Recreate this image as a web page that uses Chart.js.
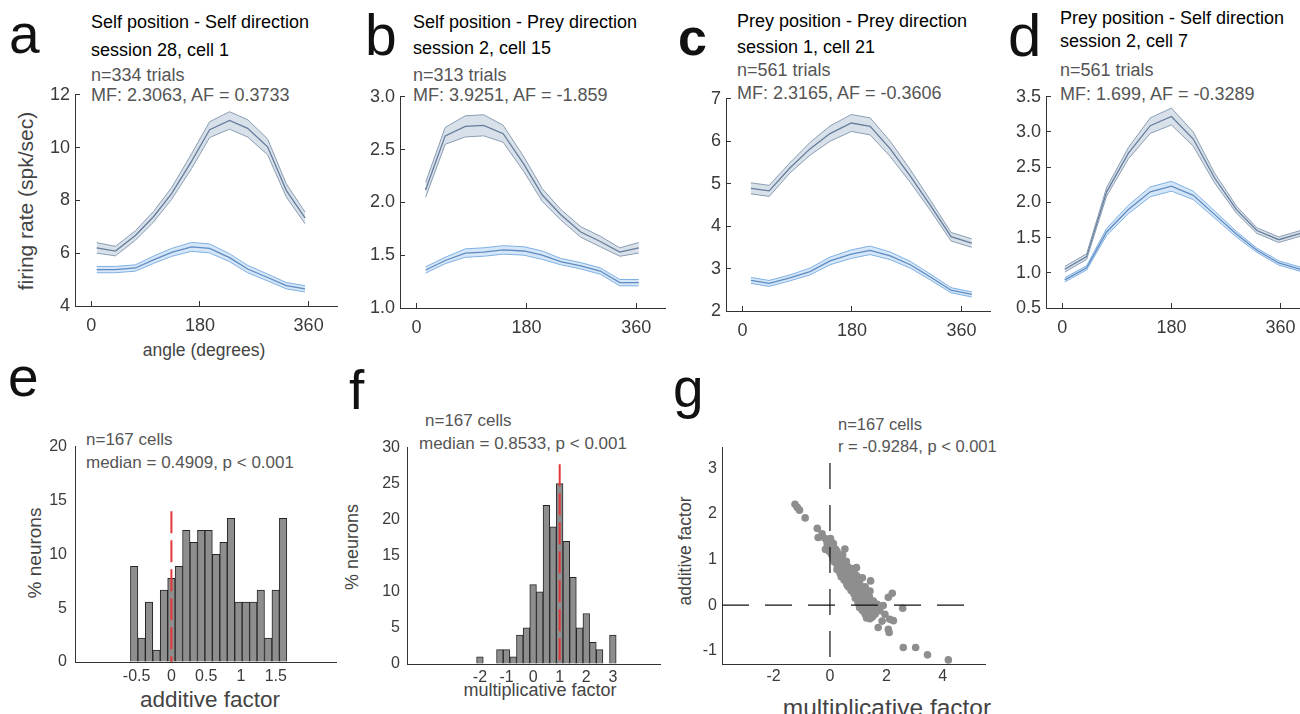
<!DOCTYPE html>
<html>
<head>
<meta charset="utf-8">
<script src="https://cdn.jsdelivr.net/npm/chart.js@4.4.0/dist/chart.umd.min.js"></script>
<style>
  html, body { margin: 0; padding: 0; width: 1300px; height: 714px; overflow: hidden; background: #fff; }
  body { position: relative; font-family: "Liberation Sans", Arial, sans-serif; }
  .t { position: absolute; white-space: nowrap; line-height: 1; }
  .title { font-size: 18px; color: #000; }
  .stat { font-size: 18px; color: #555; }
  .stat2 { font-size: 17px; color: #555; }
  .letter { position: absolute; line-height: 1; color: #111; }
  .lab { position: absolute; white-space: nowrap; line-height: 1; color: #444; transform: translate(-50%, -50%); }
  .rot { transform: translate(-50%, -50%) rotate(-90deg); }
</style>
</head>
<body>

<div class="letter" style="left:9px;top:7px;font-size:55px">a</div>
<div class="letter" style="left:365px;top:7px;font-size:57px">b</div>
<div class="letter" style="left:678px;top:11px;font-size:52px;font-weight:bold">c</div>
<div class="letter" style="left:1008px;top:6px;font-size:60px">d</div>
<div class="letter" style="left:8px;top:350px;font-size:55px">e</div>
<div class="letter" style="left:349px;top:363px;font-size:55px">f</div>
<div class="letter" style="left:673px;top:361px;font-size:55px">g</div>

<div class="t title" style="left:91px;top:13px">Self position - Self direction</div>
<div class="t title" style="left:91px;top:41px">session 28, cell 1</div>
<div class="t stat" style="left:91px;top:66px">n=334 trials</div>
<div class="t stat" style="left:91px;top:86px">MF: 2.3063, AF = 0.3733</div>

<div class="t title" style="left:413px;top:13px">Self position - Prey direction</div>
<div class="t title" style="left:413px;top:39px">session 2, cell 15</div>
<div class="t stat" style="left:413px;top:66px">n=313 trials</div>
<div class="t stat" style="left:413px;top:86px">MF: 3.9251, AF = -1.859</div>

<div class="t title" style="left:737px;top:12px">Prey position - Prey direction</div>
<div class="t title" style="left:737px;top:38px">session 1, cell 21</div>
<div class="t stat" style="left:737px;top:61px">n=561 trials</div>
<div class="t stat" style="left:737px;top:84px">MF: 2.3165, AF = -0.3606</div>

<div class="t title" style="left:1060px;top:9px">Prey position - Self direction</div>
<div class="t title" style="left:1060px;top:32px">session 2, cell 7</div>
<div class="t stat" style="left:1060px;top:61px">n=561 trials</div>
<div class="t stat" style="left:1060px;top:85px">MF: 1.699, AF = -0.3289</div>

<div class="t stat2" style="left:86px;top:431px">n=167 cells</div>
<div class="t stat2" style="left:86px;top:454px">median = 0.4909, p &lt; 0.001</div>
<div class="t stat2" style="left:425px;top:412px">n=167 cells</div>
<div class="t stat2" style="left:419px;top:435px">median = 0.8533, p &lt; 0.001</div>
<div class="t stat2" style="left:838px;top:416px;font-size:16.5px">n=167 cells</div>
<div class="t stat2" style="left:838px;top:438px;font-size:16.5px">r = -0.9284, p &lt; 0.001</div>

<div class="lab rot" style="left:25px;top:201px;font-size:21px">firing rate (spk/sec)</div>
<div class="lab" style="left:204px;top:351px;font-size:17.5px">angle (degrees)</div>
<div class="lab rot" style="left:34px;top:553px;font-size:19px">% neurons</div>
<div class="lab" style="left:210px;top:700px;font-size:22.5px">additive factor</div>
<div class="lab rot" style="left:352px;top:547px;font-size:18px">% neurons</div>
<div class="lab" style="left:540px;top:690px;font-size:18px">multiplicative factor</div>
<div class="lab rot" style="left:686px;top:551px;font-size:17.5px">additive factor</div>
<div class="lab" style="left:887px;top:708px;font-size:24.5px">multiplicative factor</div>

<script>
// ---- data ----
const angleTicks = [0, 180, 360];

const anglesA = [9, 40, 73, 103, 133, 166, 196, 229, 259, 292, 323, 354];
const meanA1 = [6.2, 6.08, 6.67, 7.38, 8.26, 9.48, 10.68, 11.03, 10.73, 10.03, 8.38, 7.34];
const semA1 = [0.2, 0.18, 0.18, 0.2, 0.22, 0.28, 0.3, 0.33, 0.33, 0.3, 0.25, 0.22];
const meanA2 = [5.38, 5.38, 5.44, 5.75, 6.03, 6.24, 6.18, 5.83, 5.4, 5.08, 4.77, 4.65];
const semA2 = [0.12, 0.12, 0.12, 0.14, 0.15, 0.17, 0.17, 0.15, 0.14, 0.13, 0.12, 0.12];
const yTicksA = [4, 6, 8, 10, 12];

const anglesB = [15, 47, 80, 110, 142, 176, 206, 236, 269, 301, 333, 364];
const meanB1 = [2.12, 2.63, 2.72, 2.73, 2.65, 2.36, 2.07, 1.885, 1.72, 1.63, 1.53, 1.57];
const semB1 = [0.07, 0.08, 0.1, 0.1, 0.08, 0.07, 0.06, 0.05, 0.05, 0.05, 0.04, 0.05];
const meanB2 = [1.36, 1.45, 1.52, 1.53, 1.55, 1.54, 1.5, 1.44, 1.4, 1.35, 1.24, 1.24];
const semB2 = [0.03, 0.03, 0.04, 0.04, 0.04, 0.04, 0.04, 0.03, 0.03, 0.03, 0.03, 0.03];
const yTicksB = [1, 1.5, 2, 2.5, 3];

const anglesC = [14, 44, 78, 111, 144, 179, 210, 243, 276, 309, 343, 377];
const meanC1 = [4.89, 4.83, 5.37, 5.82, 6.18, 6.43, 6.35, 5.82, 5.18, 4.49, 3.75, 3.6];
const semC1 = [0.13, 0.13, 0.12, 0.15, 0.18, 0.2, 0.2, 0.18, 0.15, 0.12, 0.1, 0.1];
const meanC2 = [2.72, 2.65, 2.78, 2.93, 3.18, 3.34, 3.43, 3.3, 3.09, 2.8, 2.49, 2.39];
const semC2 = [0.07, 0.07, 0.07, 0.08, 0.09, 0.1, 0.1, 0.09, 0.08, 0.07, 0.06, 0.06];
const yTicksC = [2, 3, 4, 5, 6, 7];

const anglesD = [4, 40, 73, 109, 145, 180, 216, 251, 287, 321, 357, 393];
const meanD1 = [1.05, 1.23, 2.15, 2.7, 3.09, 3.22, 2.9, 2.35, 1.9, 1.6, 1.47, 1.56];
const semD1 = [0.04, 0.04, 0.06, 0.08, 0.11, 0.12, 0.1, 0.07, 0.05, 0.04, 0.04, 0.04];
const meanD2 = [0.9, 1.07, 1.58, 1.9, 2.15, 2.23, 2.1, 1.83, 1.55, 1.32, 1.14, 1.05];
const semD2 = [0.03, 0.03, 0.05, 0.06, 0.07, 0.07, 0.06, 0.05, 0.04, 0.03, 0.03, 0.03];
const yTicksD = [0.5, 1, 1.5, 2, 2.5, 3, 3.5];

// e: additive factor histogram
const binsE = [-0.535, -0.428, -0.321, -0.214, -0.107, 0, 0.107, 0.214, 0.321, 0.428, 0.535,
  0.642, 0.749, 0.856, 0.963, 1.07, 1.177, 1.284, 1.391, 1.498, 1.605];
const pctE = [8.89, 2.22, 5.56, 1.11, 6.67, 7.78, 8.89, 12.22, 11.11, 12.22, 12.22,
  10, 11.11, 13.33, 5.56, 5.56, 5.56, 6.67, 2.22, 6.67, 13.33];
const xTicksE = [-0.5, 0, 0.5, 1, 1.5];
const yTicksE = [0, 5, 10, 15, 20];
const refE = [14, 0];

// f: multiplicative factor histogram
const binsF = [-2, -1.75, -1.5, -1.25, -1, -0.75, -0.5, -0.25, 0, 0.25, 0.5,
  0.75, 1, 1.25, 1.5, 1.75, 2, 2.25, 2.5, 2.75, 3];
const pctF = [1, 0, 0, 2, 2, 1, 4, 5, 11, 10, 22, 19, 25, 17, 12, 5, 7, 3, 2, 0, 4];
const xTicksF = [-2, -1, 0, 1, 2, 3];
const yTicksF = [0, 5, 10, 15, 20, 25, 30];
const refF = [27.7, 0];

// g: multiplicative vs additive factor per cell
const mfG = [-1.24, -1.16, -1.08, -0.88, -0.45, -0.42, -0.28, -0.15, -0.05, -0.16, -0.03, 0.53, 0.12, 0.02, -0.3,
  1.44, 1.42, 2.07, 2.21, 2.58, 1.89, 1.77, 1.5, 1.71, 2.07, 2.1, 2.25, 2.12, 2.6, 3.04, 3.46, 4.2, 1.06, 1.24, 1.54, 1.35, 1.6, 1.95, 1.85,
  0.05, 0.1, 0.15, 0.2, 0.12, 0.25, 0.3, 0.08, 0.18, 0.28, 0.35,
  0.15, 0.22, 0.3, 0.38, 0.45, 0.26, 0.34, 0.42, 0.5, 0.58,
  0.25, 0.32, 0.4, 0.48, 0.55, 0.62, 0.36, 0.44, 0.52, 0.6, 0.7, 0.78, 0.94,
  0.4, 0.48, 0.55, 0.62, 0.7, 0.78, 0.86, 0.5, 0.58, 0.66, 0.74, 0.82, 0.95,
  0.6, 0.68, 0.75, 0.82, 0.9, 0.98, 0.65, 0.72, 0.8, 0.88, 0.95, 1.05, 1.15,
  0.75, 0.82, 0.9, 0.98, 1.06, 0.85, 0.92, 1.0, 1.08, 1.16, 1.25,
  0.9, 0.98, 1.05, 1.12, 1.2, 1.3, 1.0, 1.08, 1.15, 1.22, 1.32, 1.4,
  1.05, 1.12, 1.2, 1.28, 1.36, 1.45, 1.15, 1.25, 1.35, 1.48, 1.58, 1.68,
  1.25, 1.35, 1.42, 1.55, 1.3, 1.42,
  0.0, 0.05, -0.08, 0.03, -0.1, 0.1, 0.2, 0.25, 0.4, 0.45];
const afG = [2.21, 2.14, 2.08, 1.91, 1.68, 1.48, 1.56, 1.45, 1.38, 1.22, 1.18, 1.23, 1.35, 1.46, 1.5,
  0.53, 0.31, 0.17, 0.26, -0.07, -0.01, -0.12, -0.26, -0.49, -0.53, -0.6, -0.34, -0.31, -0.93, -0.93, -1.09, -1.2, -0.01, -0.05, 0.09, -0.1, -0.2, -0.2, -0.35,
  1.12, 1.08, 1.1, 1.05, 1.02, 1.0, 1.04, 1.2, 1.16, 1.12, 1.08,
  0.95, 0.92, 0.9, 0.94, 0.98, 0.86, 0.84, 0.88, 0.92, 0.96,
  0.78, 0.76, 0.8, 0.78, 0.82, 0.85, 0.7, 0.72, 0.7, 0.74, 0.78, 0.8, 0.82,
  0.62, 0.64, 0.6, 0.66, 0.62, 0.68, 0.7, 0.55, 0.52, 0.56, 0.58, 0.6, 0.64,
  0.45, 0.48, 0.44, 0.5, 0.52, 0.55, 0.4, 0.38, 0.42, 0.4, 0.46, 0.48, 0.6,
  0.32, 0.3, 0.34, 0.36, 0.38, 0.25, 0.22, 0.28, 0.3, 0.34, 0.4,
  0.15, 0.12, 0.18, 0.2, 0.22, 0.26, 0.05, 0.08, 0.1, 0.12, 0.15, 0.18,
  -0.05, -0.02, 0.0, 0.03, 0.05, 0.02, -0.12, -0.1, -0.08, -0.06, -0.02, 0.02,
  -0.2, -0.22, -0.18, -0.15, -0.28, -0.3,
  1.25, 1.28, 1.3, 1.4, 1.35, 1.3, 1.22, 1.18, 1.0, 1.1];
const xTicksG = [-2, 0, 2, 4];
const yTicksG = [-1, 0, 1, 2, 3];
const vLineG = { x: [0, 0], y: [3.11, -1.29] };
const hLineG = { x: [-3.83, 4.9], y: [0, 0] };

// ---- chart setup ----
Chart.defaults.font.family = 'Liberation Sans';
Chart.defaults.color = '#3a3a3a';
Chart.defaults.animation = false;
Chart.defaults.events = [];
Chart.defaults.plugins.legend.display = false;
Chart.defaults.plugins.tooltip.enabled = false;

const YW = 60, XH = 40, PT = 14, PR = 14;
const AXIS = '#333';

const darkCol = { edge: '#8a9db3', fill: 'rgba(178,193,212,0.5)', line: '#1b3866' };
const lightCol = { edge: '#7fb1e3', fill: 'rgba(160,200,240,0.45)', line: '#2c5a99' };

function makeCanvas(area) {
  const c = document.createElement('canvas');
  const w = Math.round(area.r - area.l + YW + PR), h = Math.round(area.b - area.t + PT + XH);
  c.width = w; c.height = h;
  c.style.cssText = 'position:absolute;left:' + (area.l - YW) + 'px;top:' + (area.t - PT) + 'px;width:' + w + 'px;height:' + h + 'px';
  document.body.appendChild(c);
  return c;
}

function scale(dir, min, max, ticks, o) {
  return {
    type: 'linear', position: dir === 'x' ? 'bottom' : 'left', min: min, max: max,
    afterBuildTicks: s => { s.ticks = ticks.map(v => ({ value: v })); },
    afterFit: s => { if (dir === 'x') s.height = XH; else s.width = YW; },
    border: { color: AXIS, width: 1 },
    grid: { drawOnChartArea: false, drawTicks: !!o.tick, tickLength: -5, color: AXIS, lineWidth: 1 },
    ticks: { font: { size: o.size }, color: '#3a3a3a', padding: o.pad, maxRotation: 0, autoSkip: false,
      callback: v => o.fmt ? o.fmt(v) : String(v) }
  };
}

function bandSets(xs, mean, sem, col) {
  const pts = arr => xs.map((x, i) => ({ x: x, y: arr[i] }));
  const hi = mean.map((m, i) => m + sem[i]);
  const lo = mean.map((m, i) => m - sem[i]);
  return [
    { data: pts(hi), borderColor: col.edge, borderWidth: 1, pointRadius: 0, fill: false, tension: 0 },
    { data: pts(lo), borderColor: col.edge, borderWidth: 1, pointRadius: 0, fill: '-1', backgroundColor: col.fill, tension: 0 },
    { data: pts(mean), borderColor: col.line, borderWidth: 1.3, pointRadius: 0, fill: false, tension: 0 }
  ];
}

function tuningPanel(area, xs, m1, s1, m2, s2, yMin, yMax, yTicks, fmt) {
  new Chart(makeCanvas(area), {
    type: 'line',
    data: { datasets: bandSets(xs, m1, s1, darkCol).concat(bandSets(xs, m2, s2, lightCol)) },
    options: {
      responsive: false,
      layout: { padding: { top: PT, right: PR, left: 0, bottom: 0 } },
      scales: {
        x: scale('x', -27, 407, angleTicks, { size: 18, pad: 14, tick: true }),
        y: scale('y', yMin, yMax, yTicks, { size: 18, pad: 10, tick: true, fmt: fmt })
      }
    }
  });
}

const oneDec = v => v.toFixed(1);
tuningPanel({ l: 75, t: 88, r: 337, b: 306 }, anglesA, meanA1, semA1, meanA2, semA2, 4, 12, yTicksA);
tuningPanel({ l: 400, t: 90, r: 665, b: 308 }, anglesB, meanB1, semB1, meanB2, semB2, 1, 3, yTicksB, oneDec);
tuningPanel({ l: 726, t: 92, r: 990, b: 311 }, anglesC, meanC1, semC1, meanC2, semC2, 2, 7, yTicksC);
tuningPanel({ l: 1046, t: 90, r: 1309, b: 308 }, anglesD, meanD1, semD1, meanD2, semD2, 0.5, 3.5, yTicksD, oneDec);

function histPanel(area, bins, vals, ref, refX, xMin, xMax, xTicks, yMax, yTicks, xPad, yPad) {
  new Chart(makeCanvas(area), {
    type: 'bar',
    data: {
      datasets: [
        { type: 'line', data: ref.map(y => ({ x: refX, y: y })), borderColor: '#e5383b', borderWidth: 2,
          borderDash: [22, 7], pointRadius: 0, fill: false, order: 0 },
        { data: bins.map((x, i) => ({ x: x, y: vals[i] })), backgroundColor: '#8e8e8e', borderColor: '#262626',
          borderWidth: 1, barPercentage: 1, categoryPercentage: 1, order: 1 }
      ]
    },
    options: {
      responsive: false,
      layout: { padding: { top: PT, right: PR, left: 0, bottom: 0 } },
      scales: {
        x: scale('x', xMin, xMax, xTicks, { size: 16, pad: xPad }),
        y: scale('y', 0, yMax, yTicks, { size: 16, pad: yPad })
      }
    }
  });
}

histPanel({ l: 75, t: 443, r: 336, b: 662 }, binsE, pctE, refE, 0, -1.01, 1.99, xTicksE, 20, yTicksE, 5, 8);
histPanel({ l: 407, t: 445, r: 660, b: 664 }, binsF, pctF, refF, 1, -3.95, 3.98, xTicksF, 30, yTicksF, 4, 7);

new Chart(makeCanvas({ l: 722, t: 446.5, r: 985, b: 663 }), {
  type: 'scatter',
  data: {
    datasets: [
      { type: 'line', data: vLineG.x.map((x, i) => ({ x: x, y: vLineG.y[i] })), borderColor: '#111', borderWidth: 1.2,
        borderDash: [26, 16], pointRadius: 0, fill: false, order: 0 },
      { type: 'line', data: hLineG.x.map((x, i) => ({ x: x, y: hLineG.y[i] })), borderColor: '#111', borderWidth: 1.2,
        borderDash: [27, 16], pointRadius: 0, fill: false, order: 0 },
      { data: mfG.map((x, i) => ({ x: x, y: afG[i] })), backgroundColor: '#8e8e8e', borderWidth: 0,
        pointRadius: 3.8, order: 1 }
    ]
  },
  options: {
    responsive: false,
    layout: { padding: { top: PT, right: PR, left: 0, bottom: 0 } },
    scales: {
      x: scale('x', -3.83, 5.5, xTicksG, { size: 16, pad: 3 }),
      y: scale('y', -1.29, 3.45, yTicksG, { size: 16, pad: 5 })
    }
  }
});
</script>
</body>
</html>
